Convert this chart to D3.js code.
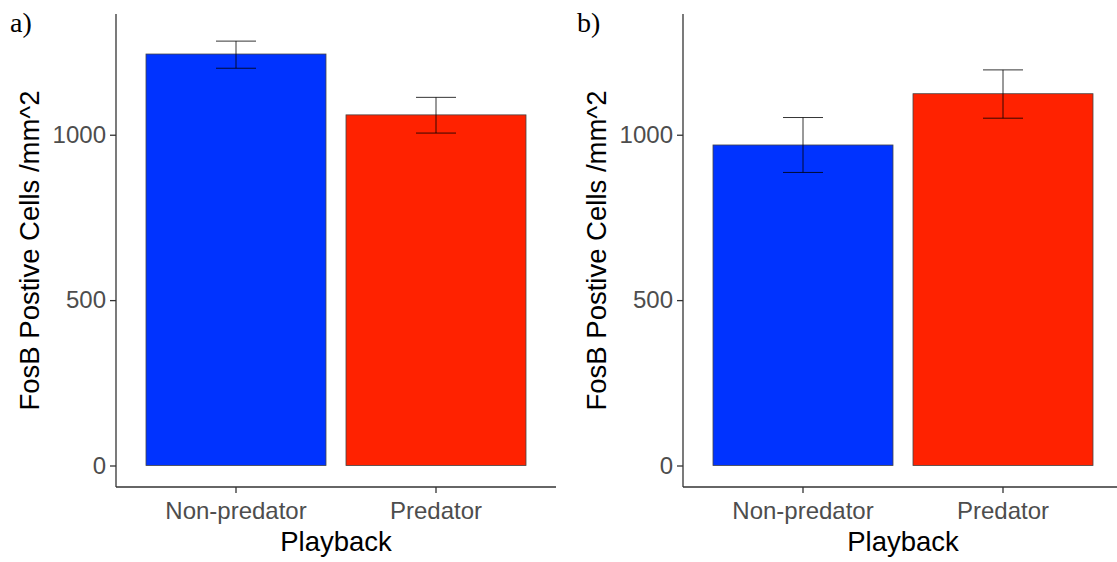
<!DOCTYPE html>
<html>
<head>
<meta charset="utf-8">
<script src="https://cdn.jsdelivr.net/npm/d3@7"></script>
<style>
  body { margin: 0; background: #fff; }
  svg { display: block; }
</style>
</head>
<body>
<svg></svg>
<script>
const svg_width = 1117;
const svg_height = 562;

const categories = ["Non-predator", "Predator"];
const panelLabels = ["a)", "b)"];
const meansA = [1244, 1060];
const upperA = [1283, 1113];
const lowerA = [1201, 1005];
const meansB = [969, 1124];
const upperB = [1052, 1196];
const lowerB = [886, 1050];
const yTicks = [0, 500, 1000];
const barColors = ["#0033ff", "#ff2200"];

const panelLeft = [116, 683];
const plotTop = 14;
const plotBottom = 487;
const plotWidth = 440;

const svg = d3.select("svg")
    .attr("width", svg_width)
    .attr("height", svg_height);

const yScale = d3.scaleLinear()
    .domain([-65, 1365])
    .range([plotBottom, plotTop]);

function drawPanel(idx, means, upper, lower) {
    const g = svg.append("g")
        .attr("transform", `translate(${panelLeft[idx]}, 0)`);

    const xScale = d3.scaleBand()
        .domain(categories)
        .range([0, plotWidth])
        .paddingInner(0.1)
        .paddingOuter(0.15);

    const rows = categories.map((c, i) => ({
        cat: c, mean: means[i], hi: upper[i], lo: lower[i], color: barColors[i]
    }));

    // bars
    g.selectAll("rect.bar")
        .data(rows)
        .enter()
        .append("rect")
        .attr("class", "bar")
        .attr("x", d => xScale(d.cat))
        .attr("width", xScale.bandwidth())
        .attr("y", d => yScale(d.mean))
        .attr("height", d => yScale(0) - yScale(d.mean))
        .attr("fill", d => d.color)
        .attr("stroke", "#444")
        .attr("stroke-width", 0.8);

    // error bars
    const capHalf = xScale.step() * 0.1;
    const mid = d => xScale(d.cat) + xScale.bandwidth() / 2;
    const eb = g.selectAll("g.err")
        .data(rows)
        .enter()
        .append("g")
        .attr("class", "err")
        .attr("stroke", "#000")
        .attr("stroke-width", 0.8);
    eb.append("line")
        .attr("x1", mid)
        .attr("x2", mid)
        .attr("y1", d => yScale(d.hi))
        .attr("y2", d => yScale(d.lo));
    eb.append("line")
        .attr("x1", d => mid(d) - capHalf)
        .attr("x2", d => mid(d) + capHalf)
        .attr("y1", d => yScale(d.hi))
        .attr("y2", d => yScale(d.hi));
    eb.append("line")
        .attr("x1", d => mid(d) - capHalf)
        .attr("x2", d => mid(d) + capHalf)
        .attr("y1", d => yScale(d.lo))
        .attr("y2", d => yScale(d.lo));

    // y axis
    const yAxis = d3.axisLeft(yScale)
        .tickValues(yTicks)
        .tickFormat(d3.format("d"))
        .tickSize(6)
        .tickPadding(4);
    const ya = g.append("g").call(yAxis);
    ya.select(".domain").attr("d", `M0,${plotTop}V${plotBottom}`);

    // x axis
    const xAxis = d3.axisBottom(xScale).tickSize(6).tickPadding(4);
    const xa = g.append("g")
        .attr("transform", `translate(0, ${plotBottom})`)
        .call(xAxis);
    xa.select(".domain").attr("d", `M0,0H${plotWidth}`);

    [ya, xa].forEach(a => {
        a.select(".domain").attr("stroke", "#333").attr("stroke-width", 1.3);
        a.selectAll(".tick line").attr("stroke", "#333").attr("stroke-width", 1.3);
        a.selectAll(".tick text")
            .attr("fill", "#4d4d4d")
            .style("font-family", "Liberation Sans, Arial, sans-serif")
            .style("font-size", "24px");
    });
    xa.selectAll(".tick text").attr("dy", "0.9em");

    // axis titles
    g.append("text")
        .attr("x", plotWidth / 2)
        .attr("y", 551)
        .attr("text-anchor", "middle")
        .style("font-family", "Liberation Sans, Arial, sans-serif")
        .style("font-size", "27.5px")
        .attr("fill", "#000")
        .text("Playback");

    g.append("text")
        .attr("transform", `translate(-77, ${(plotTop + plotBottom) / 2}) rotate(-90)`)
        .attr("text-anchor", "middle")
        .style("font-family", "Liberation Sans, Arial, sans-serif")
        .style("font-size", "27.5px")
        .attr("fill", "#000")
        .text("FosB Postive Cells /mm^2");

    // panel label
    svg.append("text")
        .attr("x", panelLeft[idx] - 106)
        .attr("y", 32)
        .style("font-family", "Liberation Serif, Times New Roman, serif")
        .style("font-size", "28px")
        .attr("fill", "#000")
        .text(panelLabels[idx]);
}

drawPanel(0, meansA, upperA, lowerA);
drawPanel(1, meansB, upperB, lowerB);
</script>
</body>
</html>
